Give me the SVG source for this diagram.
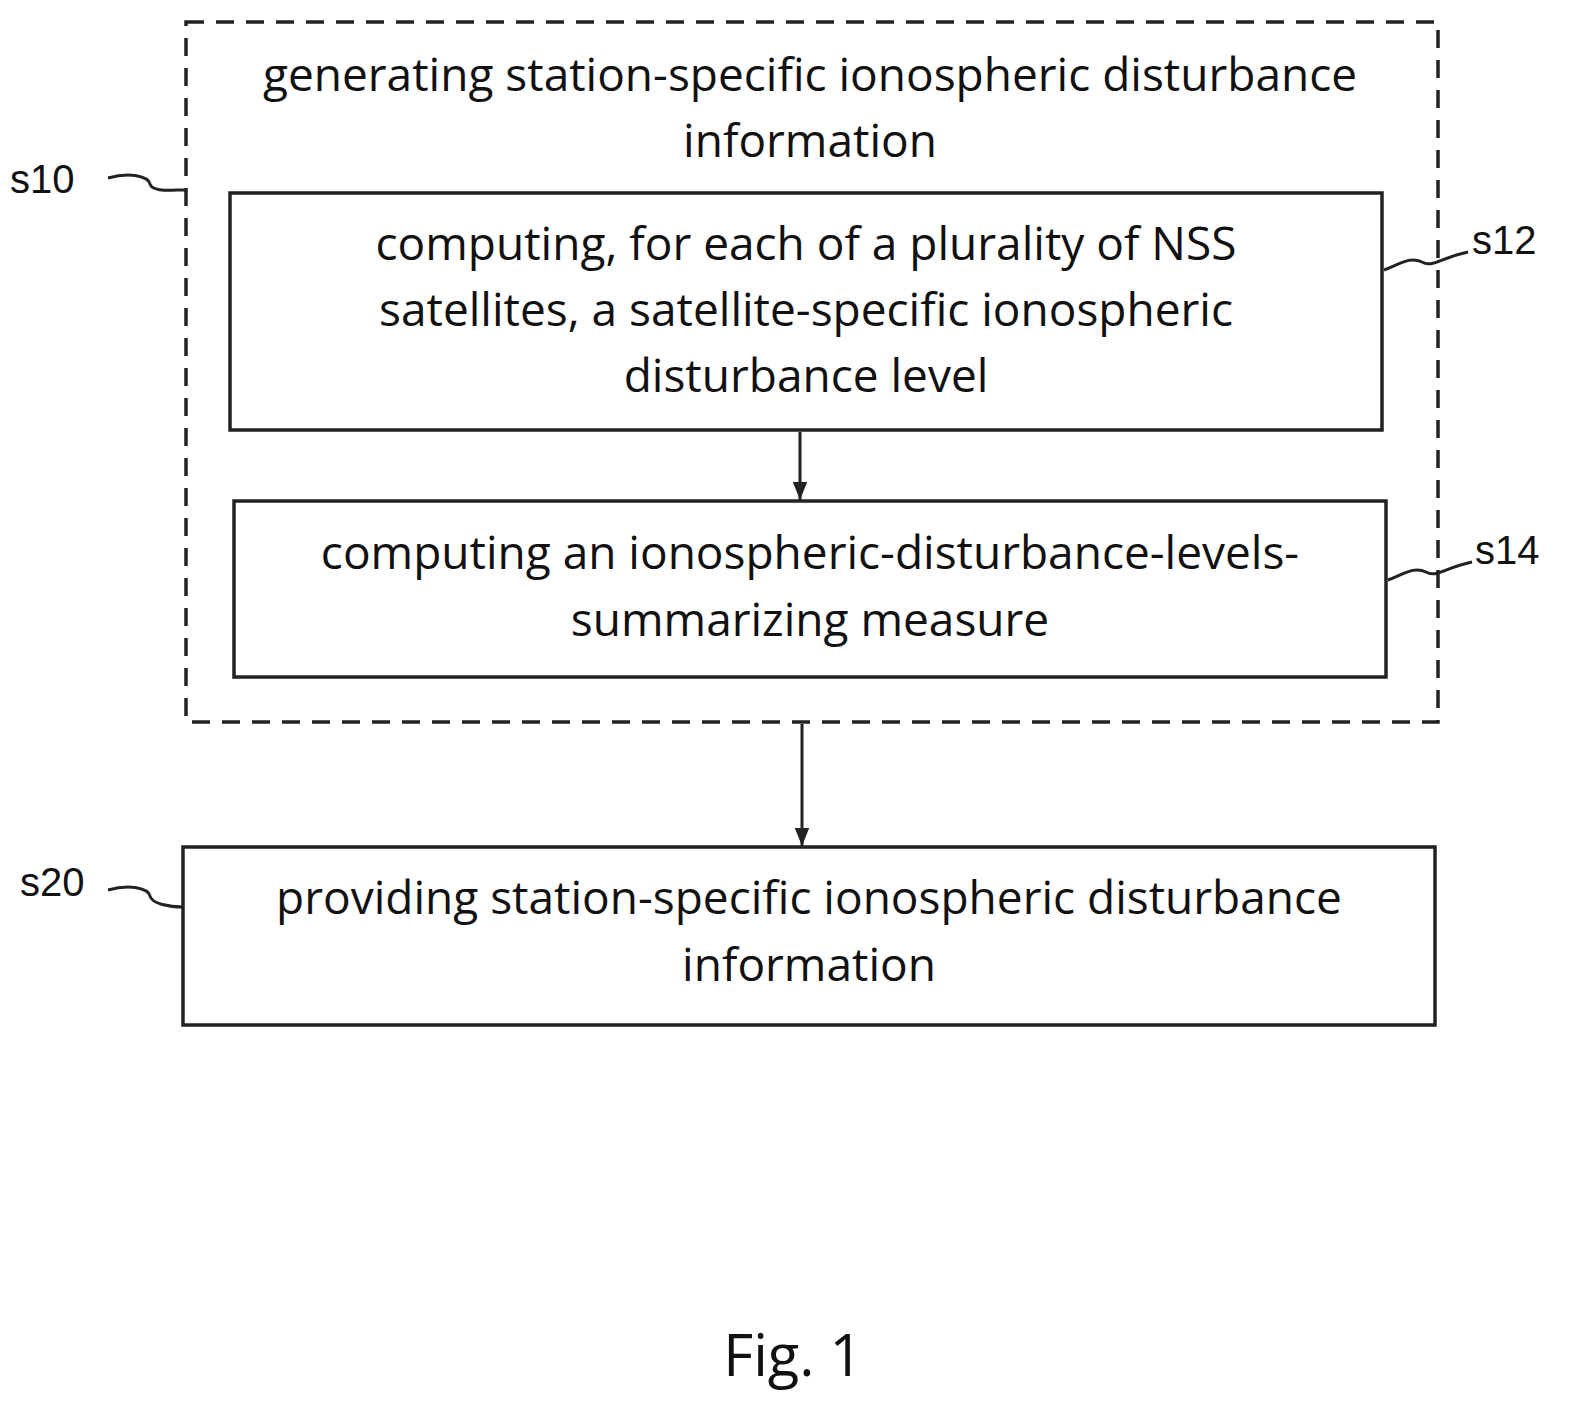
<svg xmlns="http://www.w3.org/2000/svg" width="1590" height="1416" viewBox="0 0 1590 1416">
<style>
.b{fill:#fff;stroke:#222;stroke-width:3.5}
.t{font-family:"Open Sans","DejaVu Sans",sans-serif;font-size:46px;fill:#111;text-anchor:middle}
.l{font-family:"Liberation Sans",Arial,sans-serif;font-size:40px;fill:#111}
.c{fill:none;stroke:#222;stroke-width:3}
</style>
<defs><marker id="a" markerWidth="18" markerHeight="22" refX="20" refY="8" orient="auto" markerUnits="userSpaceOnUse" viewBox="0 0 20 16"><path d="M0,0L20,8L0,16z" fill="#222"/></marker></defs>
<rect width="1590" height="1416" fill="#fff"/>
<g id="s10">
<rect x="186" y="22" width="1252" height="700" fill="none" stroke="#222" stroke-width="3.5" stroke-dasharray="18,12"/>
<text class="t" x="810" y="91">generating station-specific ionospheric disturbance</text>
<text class="t" x="810" y="157">information</text>
<text class="l" x="10" y="193">s10</text>
</g>
<g id="s12">
<rect class="b" x="230" y="193" width="1152" height="237"/>
<text class="t" x="806" y="260">computing, for each of a plurality of NSS</text>
<text class="t" x="806" y="326">satellites, a satellite-specific ionospheric</text>
<text class="t" x="806" y="392">disturbance level</text>
<text class="l" x="1472" y="254">s12</text>
</g>
<g id="s14">
<rect class="b" x="234" y="501" width="1152" height="176"/>
<text class="t" x="810" y="569">computing an ionospheric-disturbance-levels-</text>
<text class="t" x="810" y="636">summarizing measure</text>
<text class="l" x="1475" y="564">s14</text>
</g>
<g id="s20">
<rect class="b" x="183" y="847" width="1252" height="178"/>
<text class="t" x="809" y="914">providing station-specific ionospheric disturbance</text>
<text class="t" x="809" y="981">information</text>
<text class="l" x="20" y="896">s20</text>
</g>
<g id="connectors">
<line class="c" x1="800" y1="432" x2="800" y2="500" marker-end="url(#a)"/>
<line class="c" x1="802" y1="724" x2="802" y2="846" marker-end="url(#a)"/>
<path class="c" d="M108,178 C130,172 148,176 150,184 C152,192 170,190 186,190"/>
<path class="c" d="M1384,270 C1400,264 1410,256 1422,262 C1432,268 1440,258 1468,252"/>
<path class="c" d="M1388,580 C1404,574 1414,566 1426,572 C1436,578 1444,568 1472,562"/>
<path class="c" d="M108,890 C130,884 148,888 150,896 C152,904 170,907 183,907"/>
</g>
<text class="t" x="793" y="1376" style="font-size:58px">Fig. 1</text>
</svg>
